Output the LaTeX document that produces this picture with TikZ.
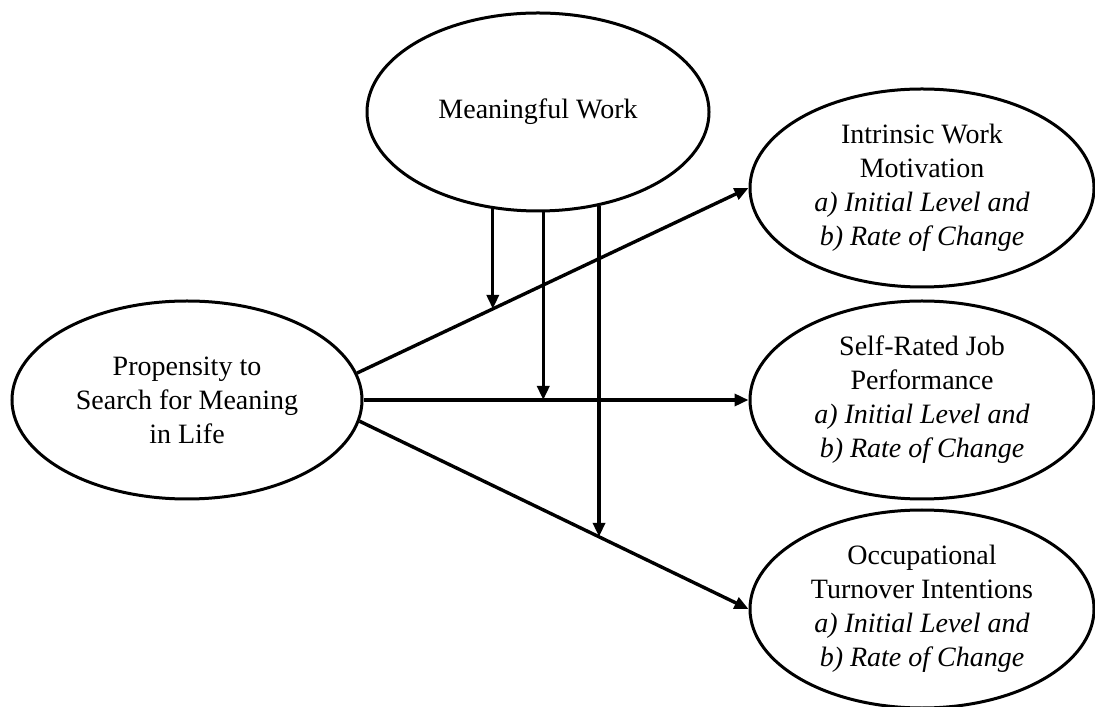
\documentclass[tikz,border=0pt]{standalone}
\usepackage{fontspec}
\setmainfont{Liberation Serif}
\usetikzlibrary{shapes,arrows.meta,positioning,calc,intersections}

\begin{document}
\begin{tikzpicture}[x=0.5pt,y=0.5pt,
    construct/.style={draw,ellipse,line width=1.5pt,minimum width=172pt,minimum height=99pt,
        inner sep=0pt,align=center,font=\fontsize{14}{17}\selectfont},
    effect/.style={line width=1.7pt,-{Triangle[length=7pt,width=6pt]}}]
    \useasboundingbox (0,0) rectangle (1095,706);

    % Predictor and moderator
    \node[construct,minimum width=175pt] (psm) at (187,306) {Propensity to\\Search for Meaning\\in Life};
    \node[construct,minimum width=171pt] (mw) at (538,594) {Meaningful Work};

    % Outcomes
    \node[construct] (imm) at (922,518) {Intrinsic Work\\Motivation\\\textit{a) Initial Level and}\\\textit{b) Rate of Change}};
    \node[construct] (srp) at (922,306) {Self-Rated Job\\Performance\\\textit{a) Initial Level and}\\\textit{b) Rate of Change}};
    \node[construct] (oti) at (922,97) {Occupational\\Turnover Intentions\\\textit{a) Initial Level and}\\\textit{b) Rate of Change}};

    % Direct paths
    \draw[effect,name path=toimm] (psm.9) -- (imm.west);
    \draw[effect,name path=tosrp] (psm.east) -- (srp.west);
    \draw[effect,name path=tooti] (psm.-7) -- (oti.west);

    % Moderation by meaningful work
    \path[name path=vimm] (mw.-115.7) -- +(0,-600);
    \path[name path=vsrp] (mw.-87.1) -- +(0,-600);
    \path[name path=voti] (mw.-57.6) -- +(0,-600);
    \draw[effect,name intersections={of=vimm and toimm,by=ximm}] (mw.-115.7) -- (ximm);
    \draw[effect,name intersections={of=vsrp and tosrp,by=xsrp}] (mw.-87.1) -- (xsrp);
    \draw[effect,name intersections={of=voti and tooti,by=xoti}] (mw.-57.6) -- (xoti);
\end{tikzpicture}
\end{document}
